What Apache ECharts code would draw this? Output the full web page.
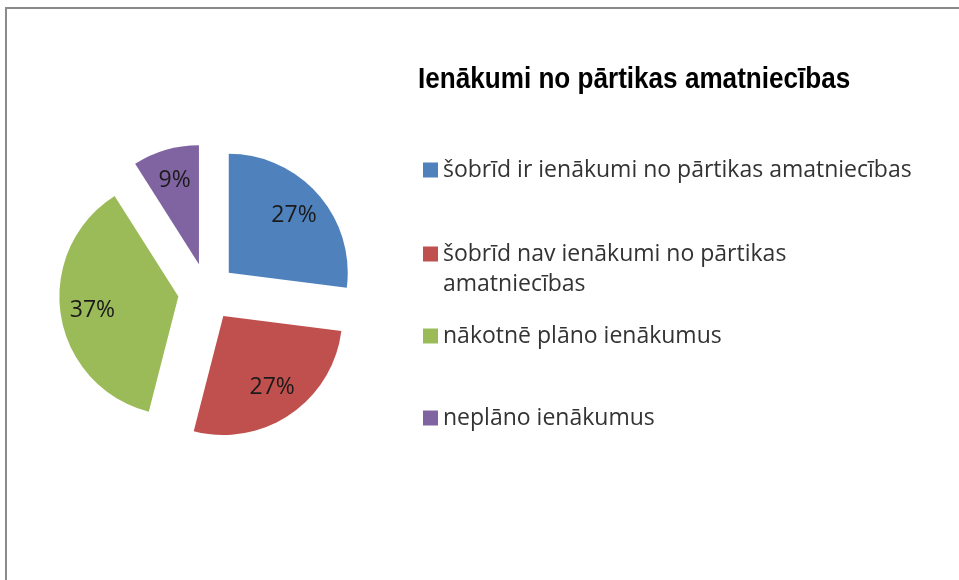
<!DOCTYPE html>
<html lang="lv">
<head>
  <meta charset="UTF-8">
  <title>Ienākumi no pārtikas amatniecības</title>
  <style>
    html, body { margin: 0; padding: 0; background: #fff; }
    #main { width: 959px; height: 580px; }
  </style>
</head>
<body>
  <div id="main"></div>
  <script src="https://cdn.jsdelivr.net/npm/echarts@6/dist/echarts.min.js"></script>
  <script>
    // dati
    const titleText = 'Ienākumi no pārtikas amatniecības'
    const categories = [
      'šobrīd ir ienākumi no pārtikas amatniecības',
      'šobrīd nav ienākumi no pārtikas amatniecības',
      'nākotnē plāno ienākumus',
      'neplāno ienākumus'
    ]
    const values = [27, 27, 37, 9]
    const colors = ['#4F81BD', '#C0504D', '#9BBB59', '#8064A2']

    // leģendas teksti (otrais ar pārnesumu kā oriģinālā)
    const legendLabels = {
      'šobrīd nav ienākumi no pārtikas amatniecības': '\nšobrīd nav ienākumi no pārtikas\namatniecības'
    }
    const legendTops = [155, 209, 321, 403]

    const font = '"Open Sans", "Noto Sans", sans-serif'
    const offset = 29

    const myChart = echarts.init(document.getElementById('main'))

    const pieData = categories.map((name, i) => ({
      name: name,
      value: values[i],
      selected: true,
      itemStyle: { color: colors[i] }
    }))

    const legends = categories.map((name, i) => ({
      data: [name],
      orient: 'vertical',
      left: 423,
      top: legendTops[i],
      padding: 0,
      itemWidth: 15,
      itemHeight: 15,
      icon: 'rect',
      selectedMode: false,
      formatter: n => legendLabels[n] || n,
      textStyle: {
        fontFamily: font,
        fontSize: 23,
        color: '#333',
        lineHeight: 30
      }
    }))

    const option = {
      backgroundColor: '#fff',
      animation: false,
      legend: legends,
      graphic: [
        {
          type: 'polyline',
          shape: { points: [[6, 580], [6, 8], [959, 8]] },
          style: { stroke: '#8a8a8a', lineWidth: 2, fill: null },
          silent: true
        },
        {
          // virsraksts, nedaudz saspiests kā oriģinālā
          type: 'text',
          x: 418,
          y: 65,
          scaleX: 0.87,
          silent: true,
          style: {
            text: titleText,
            fontFamily: '"Liberation Sans", Arial, sans-serif',
            fontWeight: 'bold',
            fontSize: 30,
            fill: '#000',
            verticalAlign: 'top'
          }
        }
      ],
      series: [
        {
          type: 'pie',
          center: [207, 292],
          radius: [0, 119],
          startAngle: 90,
          clockwise: true,
          selectedMode: 'multiple',
          selectedOffset: offset,
          silent: true,
          label: { show: false },
          labelLine: { show: false },
          emphasis: { disabled: true },
          select: { itemStyle: { borderWidth: 0 } },
          data: pieData
        },
        {
          // tikai procentu etiķetes
          type: 'pie',
          center: [207, 292],
          radius: [49, 119],
          startAngle: 90,
          clockwise: true,
          selectedMode: 'multiple',
          selectedOffset: offset,
          silent: true,
          itemStyle: { color: 'rgba(0,0,0,0)' },
          emphasis: { disabled: true },
          select: { itemStyle: { color: 'rgba(0,0,0,0)' } },
          labelLine: { show: false },
          label: {
            show: true,
            position: 'inside',
            formatter: '{c}%',
            fontFamily: font,
            fontSize: 23,
            color: '#1a1a1a',
            offset: [0, 3]
          },
          data: categories.map((name, i) => ({ name: name, value: values[i], selected: true }))
        }
      ]
    }

    myChart.setOption(option)
  </script>
</body>
</html>
